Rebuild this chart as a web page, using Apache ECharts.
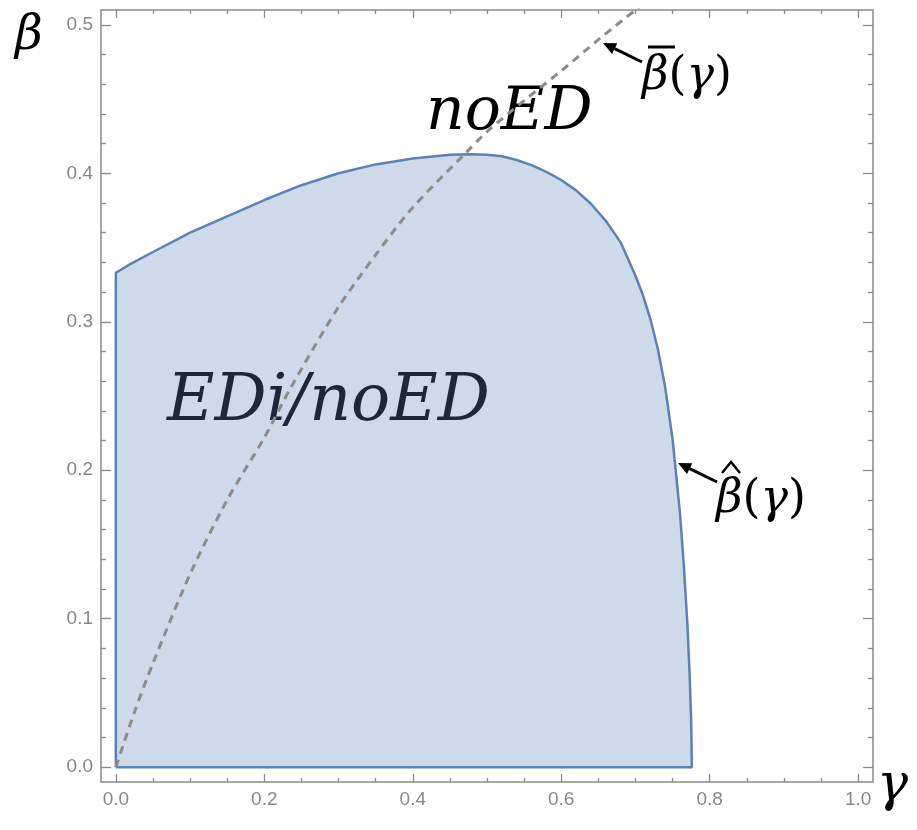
<!DOCTYPE html>
<html>
<head>
<meta charset="utf-8">
<script src="https://cdn.jsdelivr.net/npm/echarts@6/dist/echarts.min.js"></script>
<style>html,body{margin:0;padding:0;background:#fff}#c{width:917px;height:830px}</style>
</head>
<body>
<div id="c"></div>
<script>
// Boundary of EDi/noED region, beta-hat(gamma)
const gammaHat = [0, 0, 0.02, 0.05, 0.1, 0.15, 0.2, 0.25, 0.3, 0.35, 0.4, 0.45, 0.48, 0.5, 0.52, 0.54, 0.56, 0.58, 0.6, 0.62, 0.64, 0.66, 0.68, 0.7, 0.71, 0.72, 0.73, 0.74, 0.75, 0.76, 0.765, 0.77, 0.773, 0.775, 0.776, 0];
const betaHat  = [0, 0.333, 0.339, 0.347, 0.360, 0.371, 0.382, 0.392, 0.400, 0.406, 0.410, 0.4125, 0.4128, 0.4125, 0.4115, 0.409, 0.4055, 0.401, 0.3955, 0.3885, 0.3795, 0.368, 0.3535, 0.331, 0.318, 0.302, 0.282, 0.256, 0.221, 0.171, 0.137, 0.096, 0.062, 0.032, 0, 0];
// Dashed curve beta-bar(gamma)
const gammaBar = [0, 0.025, 0.05, 0.1, 0.15, 0.2, 0.235, 0.3, 0.35, 0.4, 0.47, 0.5, 0.55, 0.6, 0.65, 0.7, 0.72];
const betaBar  = [0, 0.037, 0.07, 0.13, 0.18, 0.222, 0.255, 0.31, 0.345, 0.377, 0.413, 0.428, 0.449, 0.469, 0.49, 0.51, 0.518];
// Ticks
const xMajor = [0, 0.2, 0.4, 0.6, 0.8, 1.0];
const xMinor = [0.05, 0.1, 0.15, 0.25, 0.3, 0.35, 0.45, 0.5, 0.55, 0.65, 0.7, 0.75, 0.85, 0.9, 0.95];
const yMajor = [0, 0.1, 0.2, 0.3, 0.4, 0.5];
const yMinor = [0.02, 0.04, 0.06, 0.08, 0.12, 0.14, 0.16, 0.18, 0.22, 0.24, 0.26, 0.28, 0.32, 0.34, 0.36, 0.38, 0.42, 0.44, 0.46, 0.48];

const X_MIN = -0.02, X_MAX = 1.02, Y_MIN = -0.01, Y_MAX = 0.51;
const tickCol = '#8a8a8a';
const labelFont = {color: '#888888', fontSize: 19, fontFamily: "'Liberation Sans',Arial,sans-serif"};

function ax(type, pos, vals, len, labels) {
  const isX = type === 'x';
  return {
    type: 'value', position: pos,
    min: isX ? X_MIN : Y_MIN, max: isX ? X_MAX : Y_MAX,
    splitLine: {show: false},
    axisLine: {show: false, onZero: false},
    axisTick: {show: true, inside: true, length: len, customValues: vals, lineStyle: {color: tickCol, width: 1.3}},
    axisLabel: labels ? Object.assign({show: true, customValues: vals, margin: 8, formatter: v => v.toFixed(1)}, labelFont) : {show: false}
  };
}

const serif = "'DejaVu Serif','Liberation Serif',serif";
function arrow(x1, y1, x2, y2) {
  const a = Math.atan2(y2 - y1, x2 - x1), L = 13, W = 6;
  const bx = x2 - L * Math.cos(a), by = y2 - L * Math.sin(a);
  const px = -Math.sin(a), py = Math.cos(a);
  return [
    {type: 'line', shape: {x1: x1, y1: y1, x2: bx, y2: by}, style: {stroke: '#000', lineWidth: 3}},
    {type: 'polygon', shape: {points: [[x2, y2], [bx + px * W, by + py * W], [bx - px * W, by - py * W]]}, style: {fill: '#000'}}
  ];
}
const richLabel = {
  i: {font: 'italic 46px ' + serif, fill: '#000'},
  u: {font: '46px ' + serif, fill: '#000'}
};

const chart = echarts.init(document.getElementById('c'));
chart.setOption({
  animation: false,
  backgroundColor: '#fff',
  grid: {left: 101, right: 44, top: 10, bottom: 48, show: true, borderColor: '#8a8a8a', borderWidth: 1.5, containLabel: false, outerBoundsMode: 'none'},
  xAxis: [ax('x', 'bottom', xMajor, 8, true), ax('x', 'bottom', xMinor, 4, false), ax('x', 'top', xMajor, 8, false), ax('x', 'top', xMinor, 4, false)],
  yAxis: [ax('y', 'left', yMajor, 10, true), ax('y', 'left', yMinor, 5, false), ax('y', 'right', yMajor, 10, false), ax('y', 'right', yMinor, 5, false)],
  series: [
    {
      type: 'line', xAxisIndex: 0, yAxisIndex: 0,
      data: gammaHat.map((g, i) => [g, betaHat[i]]),
      showSymbol: false, symbol: 'none', smooth: false,
      lineStyle: {color: '#5E81B5', width: 2.5},
      areaStyle: {color: '#5E81B5', opacity: 0.3, origin: 0},
      z: 2
    },
    {
      type: 'line', xAxisIndex: 0, yAxisIndex: 0,
      data: gammaBar.map((g, i) => [g, betaBar[i]]),
      showSymbol: false, symbol: 'none', smooth: 0.3, clip: true,
      lineStyle: {color: '#8c8c8c', width: 3, type: [8, 6]},
      z: 3
    }
  ],
  graphic: [
    {type: 'text', left: 15, top: 13, style: {text: 'β', font: 'italic 48px ' + serif, fill: '#000'}},
    {type: 'text', left: 877, top: 760, style: {text: 'γ', font: 'italic 52px ' + serif, fill: '#000'}},
    {type: 'text', left: 426, top: 83, style: {text: 'noED', font: 'italic 60px ' + serif, fill: '#000'}},
    {type: 'text', left: 167, top: 371, style: {text: 'EDi/noED', font: 'italic 65px ' + serif, fill: '#000'}},
    {type: 'text', left: 642, top: 54, style: {text: '{i|β}{u|(}{i|γ}{u|)}', rich: richLabel}},
    {type: 'line', shape: {x1: 648, y1: 47, x2: 675, y2: 47}, style: {stroke: '#000', lineWidth: 3}},
    {type: 'text', left: 716, top: 477, style: {text: '{i|β}{u|(}{i|γ}{u|)}', rich: richLabel}},
    {type: 'polyline', shape: {points: [[722, 473], [731, 462], [740, 473]]}, style: {stroke: '#000', lineWidth: 2.5, fill: null}},
    ...arrow(642, 62, 603, 43),
    ...arrow(717, 482, 678, 463)
  ]
});
</script>
</body>
</html>
